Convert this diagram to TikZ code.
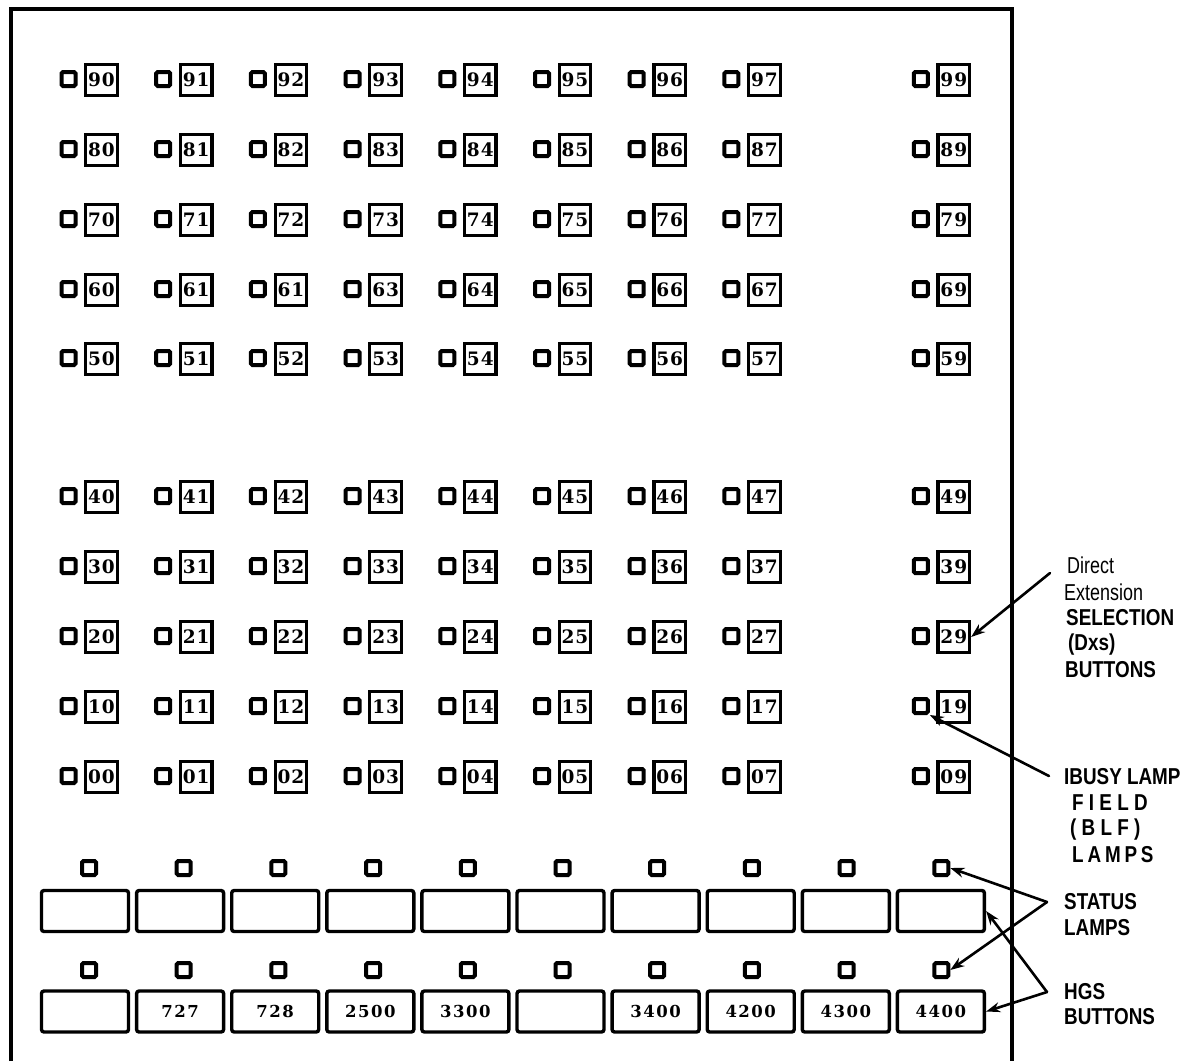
\documentclass[tikz,border=0pt]{standalone}
\usepackage{fontspec}
\usetikzlibrary{arrows.meta}
\newfontfamily\numfont[LetterSpace=5]{DejaVu Serif Bold}
\newfontfamily\btnfont[LetterSpace=9]{DejaVu Serif Bold}
\newfontfamily\lblfont[FakeStretch=0.82]{Liberation Sans Bold}
\newfontfamily\smlfont[FakeStretch=0.78]{Liberation Sans}
\begin{document}
\begin{tikzpicture}[x=1pt,y=-1pt,
  lamp/.style={draw, line width=4pt, rounded corners=1.5pt, minimum size=14pt, inner sep=0pt},
  numbox/.style={draw, line width=3.2pt, minimum width=31.5pt, minimum height=31.5pt, inner sep=0pt,
    font=\numfont\fontsize{18.5}{19}\selectfont},
  btn/.style={draw, line width=3.4pt, rounded corners=2.5pt, minimum width=87pt, minimum height=41pt, inner sep=0pt,
    font=\btnfont\fontsize{16.5}{17}\selectfont},
  pointer/.style={line width=2.6pt, line cap=round, -{Stealth[length=14pt,width=10pt]}},
  lbl/.style={anchor=west, inner sep=0pt, font=\lblfont\fontsize{23}{26}\selectfont},
  small/.style={anchor=west, inner sep=0pt, font=\smlfont\fontsize{23}{24}\selectfont}]
\useasboundingbox (0,0) rectangle (1204,1061);
% frame
\draw[line width=4pt] (11,1061) -- (11,9) -- (1012,9) -- (1012,1061);
% DXS grid
\foreach \r/\y in {9/80,8/150,7/220,6/290,5/359,4/497,3/567,2/637,1/707,0/777}{
  \foreach \c in {0,1,2,3,4,5,6,7,9}{
    \node[lamp] (L\r\c) at ({68.5+\c*94.7},\y-1) {};
    \node[numbox] (B\r\c) at ({101.5+\c*94.7},\y) {\ifnum\r\c=62 61\else\r\c\fi};
  }
}
% status lamps and HGS buttons
\foreach \i/\t in {1/{},2/727,3/728,4/2500,5/3300,6/{},7/3400,8/4200,9/4300,10/4400}{
  \node[lamp] (SL\i) at ({89+(\i-1)*94.7},868) {};
  \node[btn] (SB\i) at ({85+(\i-1)*95.1},911) {};
  \node[lamp] (HL\i) at ({89+(\i-1)*94.7},970) {};
  \node[btn] (HB\i) at ({85+(\i-1)*95.1},1011.5) {\t};
}
% labels
\node[small] (tDirect) at (1067,565) {Direct};
\node[small] (tExt) at (1064,592) {Extension};
\node[lbl] (tSel) at (1066,618) {SELECTION};
\node[lbl] (tDxs) at (1068,645) {(Dxs)};
\node[lbl] (tBut) at (1065,670) {BUTTONS};
\node[lbl] (tBusy) at (1064,777) {IBUSY LAMP};
\node[lbl] (tField) at (1072,803) {F I E L D};
\node[lbl] (tBlf) at (1070,830) {( B L F )};
\node[lbl] (tLampsA) at (1072,855) {L\,A\,M\,P\,S};
\node[lbl] (tStatus) at (1064,902) {STATUS};
\node[lbl] (tLampsB) at (1064,928) {LAMPS};
\node[lbl] (tHgs) at (1064,992) {HGS};
\node[lbl] (tHbut) at (1064,1017) {BUTTONS};
% pointers
\coordinate (dxsA) at (1050,573);
\coordinate (blfA) at (1049,776);
\coordinate (stA) at (1047,902);
\coordinate (hgA) at (1047,992);
\draw[pointer] (dxsA) -- (B29.east);
\draw[pointer] (blfA) -- (L19.south east);
\draw[pointer] (stA) -- (SL10.east);
\draw[pointer] (stA) -- (HL10.east);
\draw[pointer] (hgA) -- (SB10.east);
\draw[pointer] (hgA) -- (HB10.east);
\end{tikzpicture}
\end{document}
